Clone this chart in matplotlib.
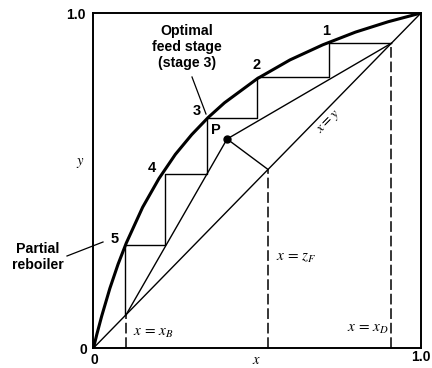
import matplotlib
matplotlib.use("Agg")
import matplotlib.pyplot as plt

# Equilibrium curve (y vs x)
eq_x = [0.0, 0.005, 0.01, 0.025, 0.05, 0.075, 0.1, 0.15, 0.2, 0.25, 0.3, 0.35,
        0.4, 0.5, 0.6, 0.7, 0.8, 0.9, 1.0]
eq_y = [0.0, 0.020, 0.040, 0.095, 0.178, 0.250, 0.313, 0.420, 0.506, 0.578,
        0.637, 0.688, 0.732, 0.804, 0.860, 0.905, 0.943, 0.974, 1.0]

# Compositions
x_B = 0.10
z_F = 0.533
x_D = 0.91

# Intersection of the operating lines
P = (0.408, 0.624)

# Stage points on the equilibrium curve (stage 1 at the top)
stage_x = [0.719, 0.499, 0.347, 0.218, 0.096]
stage_y = [0.910, 0.809, 0.687, 0.519, 0.307]
stage_names = ["1", "2", "3", "4", "5"]

fig = plt.figure(figsize=(4.32, 3.68), dpi=100)
ax = fig.add_axes([0.2164, 0.0543, 0.758, 0.9103])
ax.set_xlim(0, 1)
ax.set_ylim(0, 1)
ax.set_xticks([])
ax.set_yticks([])
for s in ax.spines.values():
    s.set_linewidth(1.4)

k = "black"
thin = 1.0

# equilibrium curve and diagonal
ax.plot(eq_x, eq_y, color=k, lw=2.2, solid_capstyle="round")
ax.plot([0, 1], [0, 1], color=k, lw=thin)

# operating lines and q-line
ax.plot([x_D, P[0]], [x_D, P[1]], color=k, lw=thin)
ax.plot([x_B, P[0]], [x_B, P[1]], color=k, lw=thin)
ax.plot([P[0], z_F], [P[1], z_F], color=k, lw=thin)
ax.plot([P[0]], [P[1]], "o", color=k, ms=5)

# stage staircase
sx, sy = [x_D], [x_D]
for i in range(len(stage_x)):
    sx.append(stage_x[i]); sy.append(stage_y[i])
    nxt = stage_y[i + 1] if i + 1 < len(stage_y) else x_B
    sx.append(stage_x[i]); sy.append(nxt)
ax.plot(sx, sy, color=k, lw=thin)

# dashed composition lines
dash = (0, (7, 2.5))
for v in (x_B, z_F, x_D):
    ax.plot([v, v], [0, v], color=k, lw=1.1, linestyle=dash)

plt.rcParams["mathtext.fontset"] = "stix"
sans = dict(family="Liberation Sans", color=k)

# stage labels
offs = [(-2.2, 8.6), (0, 8.6), (-7.2, 5.0), (-9.4, 4.3), (-7.2, 4.3)]
for xv, yv, name, (dx, dy) in zip(stage_x, stage_y, stage_names, offs):
    ax.annotate(name, (xv, yv), xytext=(dx, dy), textcoords="offset points",
                ha="center", va="center", fontsize=10.5, fontweight="bold", **sans)
ax.annotate("P", P, xytext=(-7.9, 6.5), textcoords="offset points",
            ha="center", va="center", fontsize=10.5, fontweight="bold", **sans)

# axis end labels
fig.text(86 / 432, 1 - 15 / 368, "1.0", ha="right", va="center",
         fontsize=10, fontweight="bold", **sans)
fig.text(83 / 432, 1 - 350 / 368, "0", ha="center", va="center",
         fontsize=10, fontweight="bold", **sans)
fig.text(94 / 432, 1 - 360 / 368, "0", ha="center", va="center",
         fontsize=10, fontweight="bold", **sans)
fig.text(421 / 432, 1 - 357 / 368, "1.0", ha="center", va="center",
         fontsize=10, fontweight="bold", **sans)
fig.text(256 / 432, 1 - 360 / 368, "$x$", ha="center", va="center", fontsize=10.5)
fig.text(80 / 432, 1 - 163 / 368, "$y$", ha="center", va="center", fontsize=10.5)

# annotations
fig.text(187 / 432, 1 - 47 / 368, "Optimal\nfeed stage\n(stage 3)",
         ha="center", va="center", fontsize=10.2, fontweight="bold",
         linespacing=1.22, **sans)
fig.add_artist(plt.Line2D([192 / 432, 206 / 432], [1 - 77 / 368, 1 - 114 / 368],
                          color=k, lw=0.9))
fig.text(38 / 432, 1 - 257 / 368, "Partial\nreboiler",
         ha="center", va="center", fontsize=10.2, fontweight="bold",
         linespacing=1.22, **sans)
fig.add_artist(plt.Line2D([67 / 432, 103 / 432], [1 - 256 / 368, 1 - 242 / 368],
                          color=k, lw=0.9))

ax.text(0.72, 0.675, "$x = y$", rotation=45.5, ha="center", va="center",
        fontsize=10, rotation_mode="anchor")
fig.text(276 / 432, 1 - 257 / 368, "$x\\,=\\,z_F$", ha="left", va="center", fontsize=11)
fig.text(389 / 432, 1 - 328 / 368, "$x\\,=\\,x_D$", ha="right", va="center", fontsize=11)
fig.text(133 / 432, 1 - 332 / 368, "$x\\,=\\,x_B$", ha="left", va="center", fontsize=11)

fig.savefig("out.png", dpi=100)
